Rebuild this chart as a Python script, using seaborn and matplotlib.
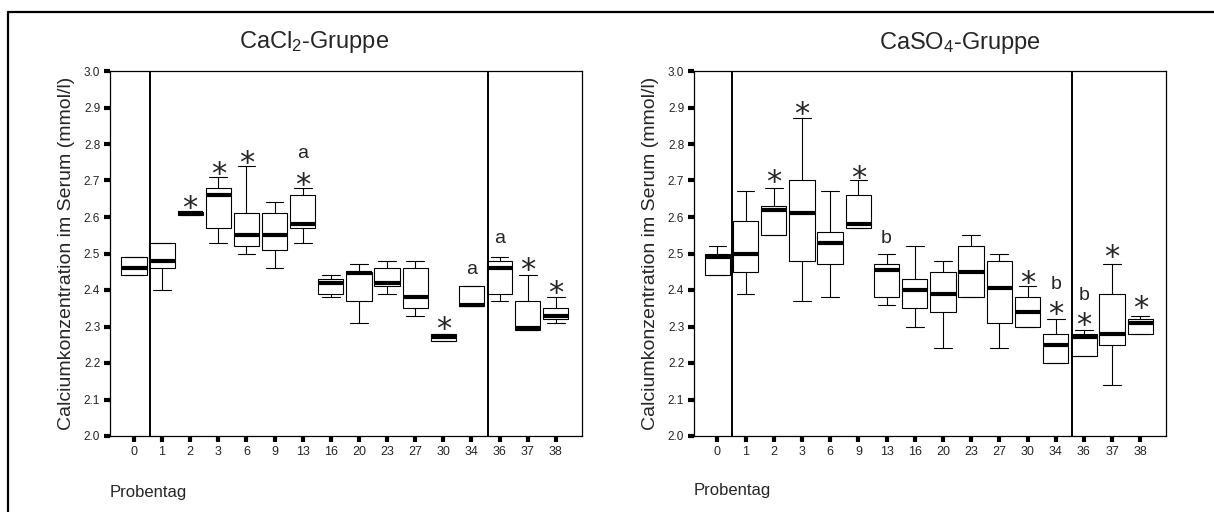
import pandas as pd
import matplotlib.pyplot as plt
from matplotlib.lines import Line2D
import seaborn as sns

tage = ["0", "1", "2", "3", "6", "9", "13", "16", "20", "23", "27", "30", "34", "36", "37", "38"]
yticks = [2.0, 2.1, 2.2, 2.3, 2.4, 2.5, 2.6, 2.7, 2.8, 2.9, 3.0]

# CaCl2-Gruppe: Minimum, Quartile, Median, Maximum je Probentag
cacl_min = [2.44, 2.40, 2.605, 2.53, 2.50, 2.46, 2.53, 2.38, 2.31, 2.39, 2.33, 2.26, 2.355, 2.37, 2.29, 2.31]
cacl_q1 = [2.44, 2.46, 2.605, 2.57, 2.52, 2.51, 2.57, 2.39, 2.37, 2.41, 2.35, 2.26, 2.355, 2.39, 2.29, 2.32]
cacl_med = [2.46, 2.48, 2.61, 2.66, 2.55, 2.55, 2.58, 2.42, 2.447, 2.42, 2.38, 2.27, 2.36, 2.46, 2.297, 2.33]
cacl_q3 = [2.49, 2.53, 2.615, 2.68, 2.61, 2.61, 2.66, 2.43, 2.45, 2.46, 2.46, 2.28, 2.41, 2.48, 2.37, 2.35]
cacl_max = [2.49, 2.53, 2.615, 2.71, 2.74, 2.64, 2.68, 2.44, 2.47, 2.48, 2.48, 2.28, 2.41, 2.49, 2.44, 2.38]

# CaSO4-Gruppe
caso_min = [2.44, 2.39, 2.55, 2.37, 2.38, 2.57, 2.36, 2.30, 2.24, 2.38, 2.24, 2.30, 2.20, 2.22, 2.14, 2.28]
caso_q1 = [2.44, 2.45, 2.55, 2.48, 2.47, 2.57, 2.38, 2.35, 2.34, 2.38, 2.31, 2.30, 2.20, 2.22, 2.25, 2.28]
caso_med = [2.49, 2.50, 2.62, 2.61, 2.53, 2.58, 2.455, 2.40, 2.39, 2.45, 2.405, 2.34, 2.25, 2.27, 2.28, 2.31]
caso_q3 = [2.50, 2.59, 2.63, 2.70, 2.56, 2.66, 2.47, 2.43, 2.45, 2.52, 2.48, 2.38, 2.28, 2.28, 2.39, 2.32]
caso_max = [2.52, 2.67, 2.68, 2.87, 2.67, 2.70, 2.50, 2.52, 2.48, 2.55, 2.50, 2.41, 2.32, 2.29, 2.47, 2.33]

# Kennzeichnungen ueber den Boxen (Position des Probentags, Hoehe, Zeichen)
cacl_marks_x = [2, 3, 4, 6, 6, 11, 12, 13, 14, 15]
cacl_marks_y = [2.647, 2.741, 2.772, 2.710, 2.776, 2.315, 2.459, 2.542, 2.478, 2.416]
cacl_marks_t = ["*", "*", "*", "*", "a", "*", "a", "a", "*", "*"]

caso_marks_x = [2, 3, 5, 6, 11, 12, 12, 13, 13, 14, 15]
caso_marks_y = [2.720, 2.904, 2.731, 2.548, 2.441, 2.423, 2.357, 2.391, 2.327, 2.514, 2.373]
caso_marks_t = ["*", "*", "*", "b", "*", "b", "*", "b", "*", "*", "*"]


def long_form(mins, q1, med, q3, maxs):
    rows = []
    for i, tag in enumerate(tage):
        for v in (mins[i], q1[i], med[i], q3[i], maxs[i]):
            rows.append((tag, v))
    return pd.DataFrame(rows, columns=["Probentag", "Calcium"])


sns.set_style("white")
plt.rcParams["font.family"] = ["Liberation Sans", "DejaVu Sans"]
plt.rcParams["mathtext.default"] = "regular"

fig = plt.figure(figsize=(12.14, 5.12), dpi=100)
ax1 = fig.add_axes([110 / 1214, 76 / 512, 472 / 1214, 365 / 512])
ax2 = fig.add_axes([694 / 1214, 76 / 512, 472 / 1214, 365 / 512])

# Versatz (Anteil der Schriftgroesse), damit das Zeichen mittig auf der Hoehe sitzt
shift = {"*": 0.57, "a": 0.26, "b": 0.36}
size = {"*": 22, "a": 14, "b": 14}
schrift = {"*": "DejaVu Sans", "a": "Liberation Sans", "b": "Liberation Sans"}


def panel(ax, df, mx, my, mt, vlines, xlim):
    sns.boxplot(data=df, x="Probentag", y="Calcium", order=tage, ax=ax,
                color="white", linecolor="black", linewidth=0.8, width=0.9,
                whis=(0, 100), capwidths=0.63,
                medianprops=dict(color="black", linewidth=3, solid_capstyle="butt"))
    for v in vlines:
        ax.axvline(v, color="black", lw=1.4)
    for x, y, t in zip(mx, my, mt):
        ax.annotate(t, (x, y), xytext=(0, -shift[t] * size[t]), textcoords="offset points",
                    ha="center", va="baseline", fontsize=size[t], family=schrift[t])
    ax.set_ylim(2.0, 3.0)
    ax.set_xlim(*xlim)
    ax.set_yticks(yticks)
    ax.set_yticklabels([f"{t:.1f}" for t in yticks])
    ax.tick_params(axis="both", length=4, width=3, color="black", pad=3,
                   left=True, bottom=True)
    ax.tick_params(axis="x", labelsize=9)
    ax.tick_params(axis="y", labelsize=8.5)
    for s in ax.spines.values():
        s.set_color("black")
        s.set_linewidth(0.9)
    ax.set_xlabel("")
    ax.set_ylabel("Calciumkonzentration im Serum (mmol/l)", fontsize=14)
    ax.yaxis.set_label_coords(-0.074, 0.5)


panel(ax1, long_form(cacl_min, cacl_q1, cacl_med, cacl_q3, cacl_max),
      cacl_marks_x, cacl_marks_y, cacl_marks_t, [0.57, 12.58], (-0.85, 15.93))
panel(ax2, long_form(caso_min, caso_q1, caso_med, caso_q3, caso_max),
      caso_marks_x, caso_marks_y, caso_marks_t, [0.52, 12.58], (-0.83, 15.91))

fig.text(314.5 / 1214, 1 - 42 / 512, "CaCl$_2$-Gruppe", ha="center", va="center", fontsize=17)
fig.text(960 / 1214, 1 - 43 / 512, "CaSO$_4$-Gruppe", ha="center", va="center", fontsize=17)
fig.text(110 / 1214, 1 - 492 / 512, "Probentag", ha="left", va="center", fontsize=12)
fig.text(694 / 1214, 1 - 490 / 512, "Probentag", ha="left", va="center", fontsize=12)

# Rahmen oben und links
fig.add_artist(Line2D([8 / 1214, 8 / 1214], [0, 1 - 11.5 / 512], color="black", lw=1.6))
fig.add_artist(Line2D([8 / 1214, 1], [1 - 11.5 / 512, 1 - 11.5 / 512], color="black", lw=1.6))

fig.savefig("out.png", dpi=100)
